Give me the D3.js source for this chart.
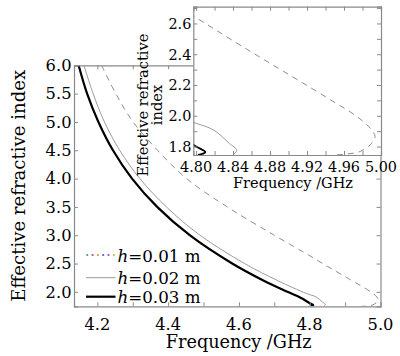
<!DOCTYPE html>
<html><head><meta charset="utf-8">
<script src="https://cdn.jsdelivr.net/npm/d3@7"></script>
<style>html,body{margin:0;padding:0;background:#fff;} svg{display:block;}</style>
</head><body><svg id="c" width="400" height="356"></svg>
<script>
// ---- data: [frequency GHz, effective refractive index]
const h01 = [[4.212,6.0],[4.252,5.5],[4.301,5.0],[4.370,4.5],[4.452,4.0],[4.567,3.5],[4.700,3.0],[4.801,2.634],[4.8385,2.493],[4.874,2.363],[4.910,2.233],[4.9455,2.103],[4.974,1.995],[4.990,1.908],[4.9936,1.865],[4.990,1.822],[4.9775,1.768],[4.9525,1.746],[4.94,1.74]];
const h02 = [[4.162,6.0],[4.188,5.5],[4.220,5.0],[4.263,4.5],[4.320,4.0],[4.395,3.5],[4.490,3.0],[4.616,2.5],[4.709,2.2],[4.790,1.973],[4.819,1.907],[4.836,1.82],[4.844,1.777],[4.840,1.745]];
const h03 = [[4.147,6.0],[4.171,5.5],[4.203,5.0],[4.244,4.5],[4.298,4.0],[4.369,3.5],[4.461,3.0],[4.581,2.5],[4.669,2.2],[4.737,2.0],[4.773,1.9],[4.800,1.80],[4.810,1.764],[4.802,1.745]];
const seriesNames = ["=0.01 m","=0.02 m","=0.03 m"];
const mainXTicks = [4.2,4.4,4.6,4.8,5.0];
const mainXMinor = [4.2,4.3,4.4,4.5,4.6,4.7,4.8,4.9];
const mainYTicks = [2.0,2.5,3.0,3.5,4.0,4.5,5.0,5.5,6.0];
const insetXTicks = [4.80,4.84,4.88,4.92,4.96,5.00];
const insetXMinor = [4.80,4.82,4.84,4.86,4.88,4.90,4.92,4.94,4.96,4.98];
const insetYTicks = [1.8,2.0,2.2,2.4,2.6];
const insetYMinor = [1.8,1.9,2.0,2.1,2.2,2.3,2.4,2.5,2.6,2.7];
const legendDotColors = ["#2aa198","#e0403a","#e8902a","#3a62d8","#9a46c8","#c8b82a"];

(function(){
const svg = d3.select("#c").attr("font-family",'"DejaVu Serif", "Liberation Serif", serif');
const frame = "#8a8a8a";
const styles = [
  {stroke:"#8c8c8c", width:1, dash:"6,5"},
  {stroke:"#9a9a9a", width:1, dash:null},
  {stroke:"#000", width:2.2, dash:null}
];
const data = [h01,h02,h03];
function fit(sel, target){
  const len = sel.node().getComputedTextLength();
  const fs = parseFloat(sel.attr("font-size"));
  if (len>0) sel.attr("font-size", (fs*target/len).toFixed(2));
  return sel;
}

// ---- main plot
const M = {l:74, r:380.5, t:65.3, b:306.3};
const x = d3.scaleLinear().domain([4.134,5.0]).range([M.l,M.r]);
const y = d3.scaleLinear().domain([1.745,6.0]).range([M.b,M.t]);

svg.append("clipPath").attr("id","cm").append("rect")
  .attr("x",M.l).attr("y",M.t).attr("width",M.r-M.l).attr("height",M.b-M.t);

const line = d3.line().x(d=>x(d[0])).y(d=>y(d[1])).curve(d3.curveCatmullRom.alpha(0.5));
const gm = svg.append("g").attr("clip-path","url(#cm)");
data.forEach((s,i)=>{
  gm.append("path").attr("d",line(s)).attr("fill","none")
    .attr("stroke",styles[i].stroke).attr("stroke-width",styles[i].width)
    .attr("stroke-dasharray",styles[i].dash).attr("stroke-linejoin","round");
});

const tl = 4;
const axB = svg.append("g").attr("transform",`translate(0,${M.b})`)
  .call(d3.axisBottom(x).tickValues(mainXMinor).tickSize(-tl).tickFormat(""));
const axT = svg.append("g").attr("transform",`translate(0,${M.t})`)
  .call(d3.axisTop(x).tickValues(mainXMinor).tickSize(-tl).tickFormat(""));
const axL = svg.append("g").attr("transform",`translate(${M.l},0)`)
  .call(d3.axisLeft(y).tickValues(mainYTicks).tickSize(-tl).tickFormat(""));
const axR = svg.append("g").attr("transform",`translate(${M.r},0)`)
  .call(d3.axisRight(y).tickValues(mainYTicks).tickSize(-tl).tickFormat(""));
[axB,axT,axL,axR].forEach(g=>{
  g.selectAll("path.domain").attr("stroke",frame).attr("stroke-width",1.2);
  g.selectAll(".tick line").attr("stroke",frame);
});
svg.append("g").selectAll("text").data(mainXTicks).join("text")
  .attr("x",d=>x(d)).attr("y",M.b+23.5).attr("text-anchor","middle")
  .attr("font-size",16.3).text(d=>d.toFixed(1));
svg.append("g").selectAll("text").data(mainYTicks).join("text")
  .attr("x",M.l-2.5).attr("y",d=>y(d)+5.8).attr("text-anchor","end")
  .attr("font-size",16.3).text(d=>d.toFixed(1));
fit(svg.append("text").attr("x",238.7).attr("y",348).attr("text-anchor","middle")
  .attr("font-size",18).text("Frequency /GHz"), 146);
fit(svg.append("text").attr("transform",`translate(25,${(M.t+M.b)/2}) rotate(-90)`)
  .attr("text-anchor","middle").attr("font-size",18).text("Effective refractive index"), 232);

// legend
const legY = [255,277.7,296.7];
const lg = svg.append("g");
legendDotColors.forEach((c,j)=>{
  lg.append("circle").attr("cx",87.3+j*5.3).attr("cy",legY[0]).attr("r",1.1).attr("fill",c);
});
[1,2].forEach(i=>{
  lg.append("line").attr("x1",86).attr("x2",115.5).attr("y1",legY[i]).attr("y2",legY[i])
    .attr("stroke",styles[i].stroke).attr("stroke-width",styles[i].width);
});
seriesNames.forEach((n,i)=>{
  const t = lg.append("text").attr("x",117.5).attr("y",legY[i]+6.5).attr("font-size",17);
  t.append("tspan").attr("font-style","italic").text("h");
  t.append("tspan").text(n);
  fit(t, 83);
});

// ---- inset
const I = {l:193.3, r:381, t:6.7, b:155};
const xi = d3.scaleLinear().domain([4.797,5.0]).range([I.l,I.r]);
const yi = d3.scaleLinear().domain([1.745,2.709]).range([I.b,I.t]);
svg.append("rect").attr("x",I.l).attr("y",I.t).attr("width",I.r-I.l).attr("height",I.b-I.t).attr("fill","#fff");
svg.append("clipPath").attr("id","ci").append("rect")
  .attr("x",I.l).attr("y",I.t).attr("width",I.r-I.l).attr("height",I.b-I.t);
const linei = d3.line().x(d=>xi(d[0])).y(d=>yi(d[1])).curve(d3.curveCatmullRom.alpha(0.5));
const gi = svg.append("g").attr("clip-path","url(#ci)");
data.forEach((s,i)=>{
  gi.append("path").attr("d",linei(s)).attr("fill","none")
    .attr("stroke",styles[i].stroke).attr("stroke-width",i===2?1.8:styles[i].width)
    .attr("stroke-dasharray",styles[i].dash).attr("stroke-linejoin","round");
});
const ib = svg.append("g").attr("transform",`translate(0,${I.b})`)
  .call(d3.axisBottom(xi).tickValues(insetXMinor).tickSize(-tl).tickFormat(""));
const it = svg.append("g").attr("transform",`translate(0,${I.t})`)
  .call(d3.axisTop(xi).tickValues(insetXMinor).tickSize(-tl).tickFormat(""));
const il = svg.append("g").attr("transform",`translate(${I.l},0)`)
  .call(d3.axisLeft(yi).tickValues(insetYMinor).tickSize(-tl).tickFormat(""));
const ir = svg.append("g").attr("transform",`translate(${I.r},0)`)
  .call(d3.axisRight(yi).tickValues(insetYMinor).tickSize(-tl).tickFormat(""));
[ib,it,il,ir].forEach(g=>{
  g.selectAll("path.domain").attr("stroke",frame).attr("stroke-width",1.2);
  g.selectAll(".tick line").attr("stroke",frame);
});
svg.append("g").selectAll("text").data(insetXTicks).join("text")
  .attr("x",d=>xi(d)).attr("y",I.b+17).attr("text-anchor","middle")
  .attr("font-size",14.4).text(d=>d.toFixed(2));
svg.append("g").selectAll("text").data(insetYTicks).join("text")
  .attr("x",I.l-2).attr("y",d=>yi(d)+5.3).attr("text-anchor","end")
  .attr("font-size",14.4).text(d=>d.toFixed(1));
fit(svg.append("text").attr("x",293).attr("y",188).attr("text-anchor","middle")
  .attr("font-size",15).text("Frequency /GHz"), 120);
const iyl = svg.append("text").attr("transform",`translate(148,105) rotate(-90)`)
  .attr("text-anchor","middle").attr("font-size",15);
iyl.append("tspan").attr("x",0).attr("dy",0).text("Effective refractive");
const l1 = iyl.select("tspan").node().getComputedTextLength();
iyl.attr("font-size",(15*143/l1).toFixed(2));
iyl.append("tspan").attr("x",0).attr("dy",13.5).text("index");
})();
</script></body></html>
